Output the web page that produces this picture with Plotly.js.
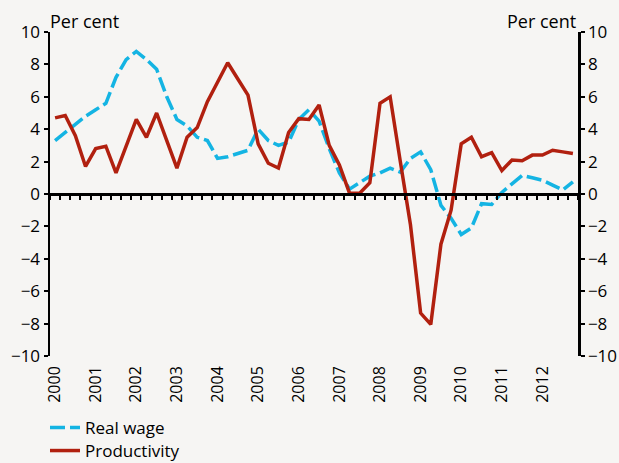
<!DOCTYPE html>
<html>
<head>
<meta charset="utf-8">
<script src="https://cdn.plot.ly/plotly-3.0.1.min.js"></script>
<style>
html,body{margin:0;padding:0;background:#f6f5f3;}
#chart{width:619px;height:463px;}
</style>
</head>
<body>
<div id="chart"></div>
<script>
// Quarterly data 2000Q1 - 2012Q4, per cent
const years = [2000,2001,2002,2003,2004,2005,2006,2007,2008,2009,2010,2011,2012];
const quarterIndex = Array.from({length: 52}, (_, i) => i);
const realWage = [
  3.3, 3.8, 4.3, 4.8, 5.2, 5.6, 7.2, 8.3,
  8.8, 8.3, 7.7, 6.0, 4.6, 4.2, 3.5, 3.3,
  2.2, 2.3, 2.5, 2.7, 4.0, 3.3, 3.0, 3.2,
  4.6, 5.2, 4.5, 2.8, 1.3, 0.3, 0.7, 1.1,
  1.3, 1.6, 1.35, 2.2, 2.6, 1.5, -0.7, -1.5,
  -2.5, -2.1, -0.6, -0.65, 0.1, 0.65, 1.15, 1.0,
  0.85, 0.55, 0.25, 0.75
];
const productivity = [
  4.7, 4.85, 3.6, 1.7, 2.8, 2.95, 1.3, 2.9,
  4.6, 3.5, 5.0, 3.3, 1.6, 3.5, 4.1, 5.7,
  6.9, 8.1, 7.1, 6.1, 3.1, 1.9, 1.6, 3.8,
  4.65, 4.6, 5.5, 3.0, 1.8, 0.05, 0.05, 0.7,
  5.6, 6.0, 2.0, -1.9, -7.35, -8.05, -3.1, -1.0,
  3.1, 3.5, 2.3, 2.55, 1.45, 2.1, 2.05, 2.4,
  2.4, 2.7, 2.6, 2.5
];
const yTicks = [-10,-8,-6,-4,-2,0,2,4,6,8,10];

const yearTickVals = years.map((y, i) => i * 4);
const yearTickText = years.map(String);
const quarterBounds = Array.from({length: 53}, (_, i) => i - 0.5);

const FAM = 'Open Sans, sans-serif';
const xRange = [-0.5, 51.5];

const traces = [
  {
    x: quarterIndex, y: realWage, name: 'Real wage', type: 'scatter', mode: 'lines',
    line: {color: '#14b4e3', width: 3.5, dash: '15px,5px'}, legend: 'legend'
  },
  {
    x: quarterIndex, y: productivity, name: 'Productivity', type: 'scatter', mode: 'lines',
    line: {color: '#b1200f', width: 3.5}, legend: 'legend2'
  },
  {x: [], y: [], xaxis: 'x2', yaxis: 'y', showlegend: false, hoverinfo: 'skip'},
  {x: [], y: [], xaxis: 'x', yaxis: 'y2', showlegend: false, hoverinfo: 'skip'}
];

const legendBase = {
  xref: 'container', yref: 'container', xanchor: 'left', yanchor: 'middle',
  bgcolor: 'rgba(0,0,0,0)', font: {family: FAM, size: 17, color: '#000'},
  itemwidth: 30, borderwidth: 0
};

const layout = {
  width: 619, height: 463,
  paper_bgcolor: '#f6f5f3', plot_bgcolor: '#f6f5f3',
  font: {family: FAM, size: 17, color: '#000'},
  margin: {l: 50, r: 41, t: 32, b: 107, pad: 0, autoexpand: false},
  showlegend: true,
  legend: Object.assign({}, legendBase, {x: 0.0727, y: 1 - 428 / 463}),
  legend2: Object.assign({}, legendBase, {x: 0.0727, y: 1 - 451 / 463}),
  xaxis: {
    range: xRange, showgrid: false, zeroline: false, showline: false,
    tickmode: 'array', tickvals: yearTickVals, ticktext: yearTickText,
    tickangle: -90, ticks: '', ticklabelstandoff: 6,
    tickfont: {family: FAM, size: 16, color: '#000'}
  },
  xaxis2: {
    range: xRange, overlaying: 'x', anchor: 'free', position: 0.5,
    showgrid: false, zeroline: false, showline: true, linecolor: '#000', linewidth: 2.5,
    tickmode: 'array', tickvals: quarterBounds, ticks: 'outside', ticklen: 4,
    tickwidth: 2, tickcolor: '#000', showticklabels: false
  },
  yaxis: {
    range: [-10, 10], showgrid: false, zeroline: false, showline: true,
    linecolor: '#000', linewidth: 2.5, ticks: 'outside', ticklen: 4, tickwidth: 2,
    tickcolor: '#000', tickmode: 'array', tickvals: yTicks,
    tickfont: {family: FAM, size: 17, color: '#000'}
  },
  yaxis2: {
    range: [-10, 10], overlaying: 'y', side: 'right', showgrid: false, zeroline: false,
    showline: true, linecolor: '#000', linewidth: 2.5, ticks: 'outside', ticklen: 4,
    tickwidth: 2, tickcolor: '#000', tickmode: 'array', tickvals: yTicks,
    tickfont: {family: FAM, size: 17, color: '#000'}
  },
  annotations: [
    {text: 'Per cent', xref: 'paper', yref: 'paper', x: 0, y: 1, xanchor: 'left',
     yanchor: 'bottom', showarrow: false, font: {family: FAM, size: 18, color: '#000'}, xshift: -2, yshift: -3},
    {text: 'Per cent', xref: 'paper', yref: 'paper', x: 1, y: 1, xanchor: 'right',
     yanchor: 'bottom', showarrow: false, font: {family: FAM, size: 18, color: '#000'}, xshift: 0, yshift: -3}
  ]
};

Plotly.newPlot('chart', traces, layout, {displayModeBar: false, staticPlot: true});
</script>
</body>
</html>
